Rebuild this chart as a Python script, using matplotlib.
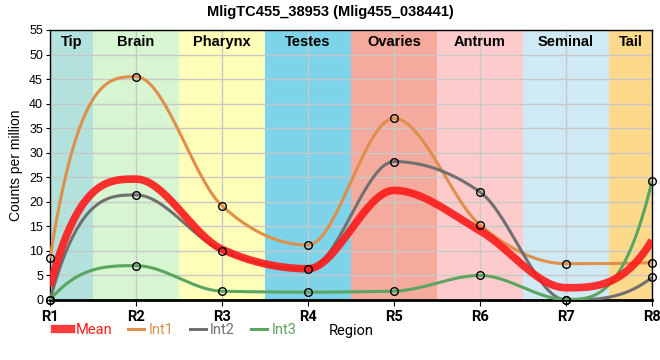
import matplotlib
matplotlib.use("Agg")
import matplotlib.pyplot as plt
from matplotlib.lines import Line2D
import numpy as np

plt.rcParams['font.family'] = ['Liberation Sans', 'DejaVu Sans']

regions = ["R1", "R2", "R3", "R4", "R5", "R6", "R7", "R8"]
tissues = ["Tip", "Brain", "Pharynx", "Testes", "Ovaries", "Antrum", "Seminal", "Tail"]
tissue_colors = ["#b3e2dd", "#d7f5d0", "#fefeb9", "#7dd3ea", "#f4ab9d", "#fdcbcb", "#cfeaf4", "#fdd98b"]

int1 = [8.5, 45.5, 19.2, 11.2, 37.0, 15.3, 7.4, 7.6]
int2 = [0.0, 21.4, 10.0, 6.3, 28.2, 22.0, 0.0, 4.6]
int3 = [0.0, 7.0, 1.8, 1.6, 1.8, 5.0, 0.1, 24.2]
mean = list(np.mean([int1, int2, int3], axis=0))


def monotone(y, n=40):
    """ Monotone cubic through points at x = 0..len-1 """
    y = np.asarray(y, dtype=float)
    d = np.diff(y)
    m = np.zeros_like(y)
    for i in range(1, len(y) - 1):
        s0, s1 = d[i - 1], d[i]
        p = (s0 + s1) / 2
        m[i] = (np.sign(s0) + np.sign(s1)) * min(abs(s0), abs(s1), 0.5 * abs(p))
    m[0] = 3 * d[0] - 2 * m[1]
    m[-1] = 3 * d[-1] - 2 * m[-2]
    xs, ys = [], []
    for i in range(len(y) - 1):
        t = np.linspace(0, 1, n, endpoint=False)
        h00 = 2 * t**3 - 3 * t**2 + 1
        h10 = t**3 - 2 * t**2 + t
        h01 = -2 * t**3 + 3 * t**2
        h11 = t**3 - t**2
        xs.append(i + t)
        ys.append(h00 * y[i] + h10 * m[i] + h01 * y[i + 1] + h11 * m[i + 1])
    xs.append([len(y) - 1])
    ys.append([y[-1]])
    return np.concatenate(xs), np.concatenate(ys)


fig = plt.figure(figsize=(6.6, 3.6), dpi=100)
ax = fig.add_axes([50 / 660, 60 / 360, 602 / 660, 270 / 360])

for i, c in enumerate(tissue_colors):
    x0, x1 = max(i - 0.5, 0), min(i + 0.5, 7)
    ax.axvspan(x0, x1, color=c, lw=0, zorder=0)
    ax.text((x0 + x1) / 2, 52.6, tissues[i], ha='center', va='center', fontsize=10.5,
            fontweight='bold', zorder=5)

ax.grid(True, color='#c8c8c8', lw=1, zorder=1)
ax.set_axisbelow(True)

series = [(int1, "#e08f4b", "Int1"), (int2, "#707070", "Int2"), (int3, "#5aa55f", "Int3")]
for vals, col, name in series:
    x, y = monotone(vals)
    ax.plot(x, y, color=col, lw=2.2, zorder=3, solid_capstyle='butt')

x, y = monotone(mean)
ax.plot(x, y, color="#ff1a1a", lw=5.5, alpha=0.9, zorder=4, solid_capstyle='butt')

for vals, col, name in series:
    ax.plot(range(len(vals)), vals, 'o', ms=5.5, mfc='none', mec='black', mew=1, zorder=6,
            clip_on=False)

ax.set_xlim(0, 7)
ax.set_ylim(0, 55)
ax.set_xticks(range(len(regions)))
ax.set_xticklabels(regions, fontsize=10.5, fontweight='bold', family=['Roboto', 'DejaVu Sans'])
ax.set_yticks(np.arange(0, 56, 5))
ax.tick_params(axis='y', labelsize=9, length=3, pad=2)
ax.tick_params(axis='x', length=4, pad=3)
for s in ax.spines.values():
    s.set_color('black')
    s.set_linewidth(1)
ax.spines['bottom'].set_linewidth(2)

ax.set_ylabel("Counts per million", fontsize=10)
fig.text(351 / 660, 1 - 331 / 360, "Region", ha='center', va='center', fontsize=10.5,
         family=['Roboto', 'DejaVu Sans'])
fig.suptitle("MligTC455_38953 (Mlig455_038441)", fontsize=10.5, fontweight='bold', y=0.985)

handles = [Line2D([], [], color="#ff1a1a", lw=6, alpha=0.85, label="Mean")]
handles += [Line2D([], [], color=c, lw=2.2, label=n) for _, c, n in series]
fig.legend(handles=handles, loc='center left', bbox_to_anchor=(55 / 660, 1 - 330 / 360), ncol=4,
           frameon=False, borderpad=0, borderaxespad=0, handlelength=1.1, handletextpad=0.3,
           columnspacing=1.1, labelcolor='linecolor',
           prop={'family': ['Roboto', 'DejaVu Sans'], 'size': 10.5})

fig.savefig("out.png", dpi=100)
